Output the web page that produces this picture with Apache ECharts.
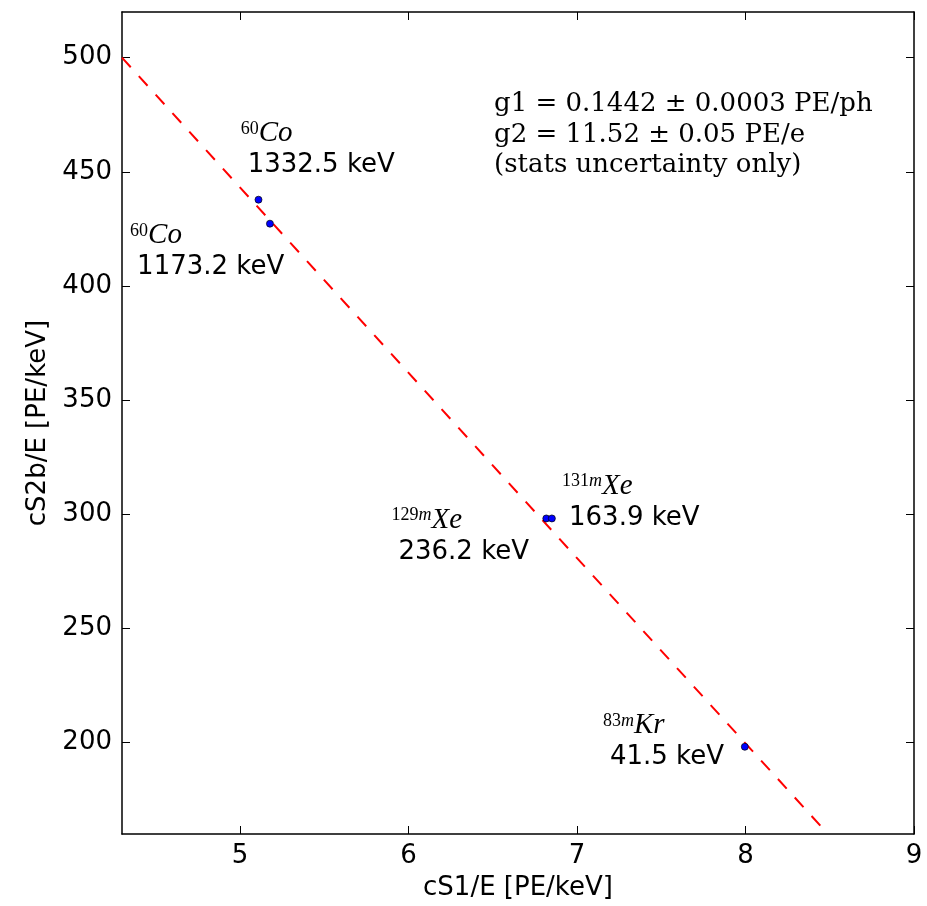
<!DOCTYPE html>
<html>
<head>
<meta charset="utf-8">
<script src="https://cdn.jsdelivr.net/npm/echarts@6/dist/echarts.min.js"></script>
<style>
html,body{margin:0;padding:0;background:#fff;}
#chart{width:927px;height:906px;}
</style>
</head>
<body>
<div id="chart"></div>
<script>
// ---- data ----
const cs1 = [5.110, 5.178, 6.818, 6.851, 7.996];
const cs2b = [437.8, 427.3, 298.2, 298.2, 198.2];
const isoMass = ['60', '60', '129m', '131m', '83m'];
const isoElem = ['Co', 'Co', 'Xe', 'Xe', 'Kr'];
const energies = ['1332.5 keV', '1173.2 keV', '236.2 keV', '163.9 keV', '41.5 keV'];
const fitX = [4.3, 8.489];
const fitY = [500.0, 160.0];
const xTicks = [5, 6, 7, 8, 9];
const yTicks = [200, 250, 300, 350, 400, 450, 500];
const infoLines = ['g1 = 0.1442 \u00b1 0.0003 PE/ph', 'g2 = 11.52 \u00b1 0.05 PE/e', '(stats uncertainty only)'];
const xRange = [4.3, 9];
const yRange = [160, 520];

// label placement (pixels, relative to each point's symbol box)
const labelShift = [[-14, -76], [-136, 2], [-151, -8], [14, -42], [-138, -31]];

const chart = echarts.init(document.getElementById('chart'));
const axisFont = {fontFamily: 'DejaVu Sans', fontSize: 26, color: '#000'};
const lineSt = {color: '#000', width: 1.5};

function xAx(pos, show) {
  return {
    type: 'value', position: pos, min: xRange[0], max: xRange[1],
    name: show ? 'cS1/E [PE/keV]' : '', nameLocation: 'middle', nameGap: 41,
    nameTextStyle: axisFont,
    axisLine: {show: true, onZero: false, lineStyle: lineSt},
    axisTick: {show: true, inside: true, length: 8, lineStyle: {color: '#000', width: 1}, customValues: xTicks},
    axisLabel: {show: show, margin: 9, customValues: xTicks, ...axisFont},
    splitLine: {show: false}
  };
}
function yAx(pos, show) {
  return {
    type: 'value', position: pos, min: yRange[0], max: yRange[1],
    name: show ? 'cS2b/E [PE/keV]' : '', nameLocation: 'middle', nameGap: 63,
    nameTextStyle: axisFont,
    axisLine: {show: true, onZero: false, lineStyle: lineSt},
    axisTick: {show: true, inside: true, length: 8, lineStyle: {color: '#000', width: 1}, customValues: yTicks},
    axisLabel: {show: show, margin: 10, customValues: yTicks, ...axisFont},
    splitLine: {show: false}
  };
}

function supText(s) {
  const digits = s.replace(/[^0-9]/g, '');
  const letters = s.replace(/[0-9]/g, '');
  return '{sup|' + digits + '}' + (letters ? '{supi|' + letters + '}' : '');
}

const pts = cs1.map((x, i) => ({
  value: [x, cs2b[i]],
  label: {
    show: true,
    position: labelShift[i],
    align: 'left', verticalAlign: 'top',
    formatter: supText(isoMass[i]) + '{it|' + isoElem[i] + '}\n{en|' + energies[i] + '}',
    rich: {
      sup: {fontFamily: 'Liberation Serif', fontSize: 18, lineHeight: 18, verticalAlign: 'top', color: '#000'},
      supi: {fontFamily: 'Liberation Serif', fontStyle: 'italic', fontSize: 18, lineHeight: 18, verticalAlign: 'top', color: '#000'},
      it: {fontFamily: 'Liberation Serif', fontStyle: 'italic', fontSize: 29, lineHeight: 28, verticalAlign: 'bottom', color: '#000'},
      en: {fontFamily: 'DejaVu Sans', fontSize: 26, lineHeight: 30, color: '#000', padding: [5, 0, 0, 7]}
    }
  }
}));

chart.setOption({
  animation: false,
  backgroundColor: '#fff',
  grid: {left: 122, right: 13, top: 12, bottom: 71, containLabel: false},
  xAxis: [xAx('bottom', true), xAx('top', false)],
  yAxis: [yAx('left', true), yAx('right', false)],
  series: [
    {
      type: 'line', xAxisIndex: 0, yAxisIndex: 0,
      data: fitX.map((x, i) => [x, fitY[i]]),
      showSymbol: false, clip: true, z: 2,
      lineStyle: {color: '#ff0000', width: 2, type: [13, 12]}
    },
    {
      type: 'scatter', xAxisIndex: 0, yAxisIndex: 0,
      data: pts, symbol: 'circle', symbolSize: 7, z: 3,
      itemStyle: {color: '#0000ff', borderColor: '#000', borderWidth: 0.7, opacity: 1}
    }
  ],
  graphic: [{
    type: 'text', left: 494, top: 89, z: 10,
    style: {
      text: infoLines.join('\n'),
      fontFamily: 'DejaVu Serif', fontSize: 26, lineHeight: 30.5, fill: '#000'
    }
  }]
});
</script>
</body>
</html>
